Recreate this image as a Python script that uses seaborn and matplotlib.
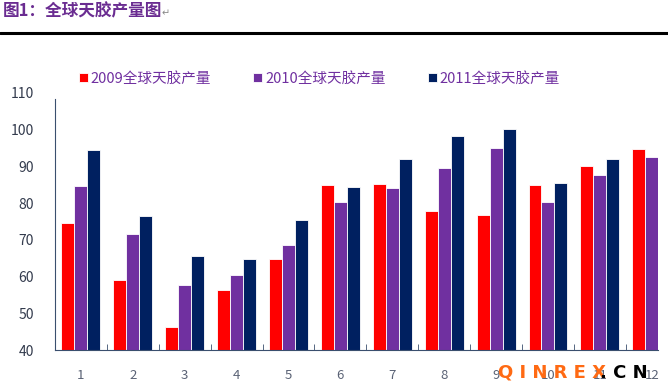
import seaborn as sns
import matplotlib.pyplot as plt
import pandas as pd
import numpy as np

months = [str(m) for m in range(1, 13)]
series_names = ["2009全球天胶产量", "2010全球天胶产量", "2011全球天胶产量"]
prod_2009 = [74.6, 59.2, 46.2, 56.4, 64.9, 84.9, 85.3, 77.8, 76.9, 85.0, 90.0, 94.7]
prod_2010 = [84.6, 71.7, 57.7, 60.5, 68.6, 80.3, 84.2, 89.7, 95.1, 80.3, 87.6, 92.5]
prod_2011 = [94.4, 76.4, 65.6, 64.7, 75.3, 84.4, 92.0, 98.3, 100.1, 85.5, 92.0, np.nan]
colors = ["#FF0000", "#7030A0", "#002060"]

rows = []
for name, vals in zip(series_names, [prod_2009, prod_2010, prod_2011]):
    for m, v in zip(months, vals):
        rows.append({"month": m, "series": name, "value": v})
df = pd.DataFrame(rows).dropna()

sns.set_style("white")
plt.rcParams['font.family'] = ['Noto Sans CJK SC', 'DejaVu Sans']

fig = plt.figure(figsize=(6.68, 3.89), dpi=100)
ax = fig.add_axes([55 / 668, 39 / 389, 603 / 668, 257 / 389])

sns.barplot(data=df, x="month", y="value", hue="series", order=months,
            hue_order=series_names, palette=colors, saturation=1, width=0.75,
            edgecolor="white", linewidth=0.6, errorbar=None, ax=ax)

ax.set_ylim(40, 110)
ax.set_xlim(-0.5, 11.12)
ax.set_yticks(range(40, 111, 10))
ax.set_xlabel("")
ax.set_ylabel("")

axis_col = "#3A4F6E"
for s in ["top", "right"]:
    ax.spines[s].set_visible(False)
ax.spines["left"].set_color(axis_col)
ax.spines["bottom"].set_color(axis_col)
ax.spines["left"].set_bounds(40, 108.3)

ax.tick_params(axis="y", direction="out", length=4, color=axis_col,
               labelsize=10, labelcolor="#333B4D", pad=11)
ax.tick_params(axis="x", which="major", length=0, labelsize=9.5,
               labelcolor="#5A6275", pad=14)
ax.set_xticks(np.arange(0.5, 11, 1), minor=True)
ax.tick_params(axis="x", which="minor", direction="in", length=4,
               color=axis_col, bottom=True)

handles, labels = ax.get_legend_handles_labels()
ax.legend(handles, labels, loc="upper left", bbox_to_anchor=(73 / 668, 0.83),
          bbox_transform=fig.transFigure, ncol=3, frameon=False,
          handlelength=0.6, handleheight=0.6, handletextpad=0.2,
          columnspacing=2.9, fontsize=10.5, labelcolor="#7030A0",
          borderaxespad=0)

fig.text(3 / 668, 1 - 11 / 389, "图1：全球天胶产量图", fontsize=12, fontweight="bold",
         color="#6A2C91", va="center", ha="left")
fig.text(162 / 668, 1 - 13 / 389, "↵", fontsize=7, color="#888888",
         va="center", ha="left", family=["DejaVu Sans"])
fig.add_artist(plt.Line2D([0, 1], [1 - 33 / 389, 1 - 33 / 389],
                          transform=fig.transFigure, color="black", linewidth=2.2))

fig.text(498 / 668, 1 - 373 / 389, "Q I N R E X", fontsize=13, fontweight="bold",
         color="#FF6A13", va="center", ha="left", family=["DejaVu Sans"])
fig.text(600 / 668, 1 - 373 / 389, ". C N", fontsize=13, fontweight="bold",
         color="black", va="center", ha="left", family=["DejaVu Sans"])

fig.savefig("out.png", dpi=100)
